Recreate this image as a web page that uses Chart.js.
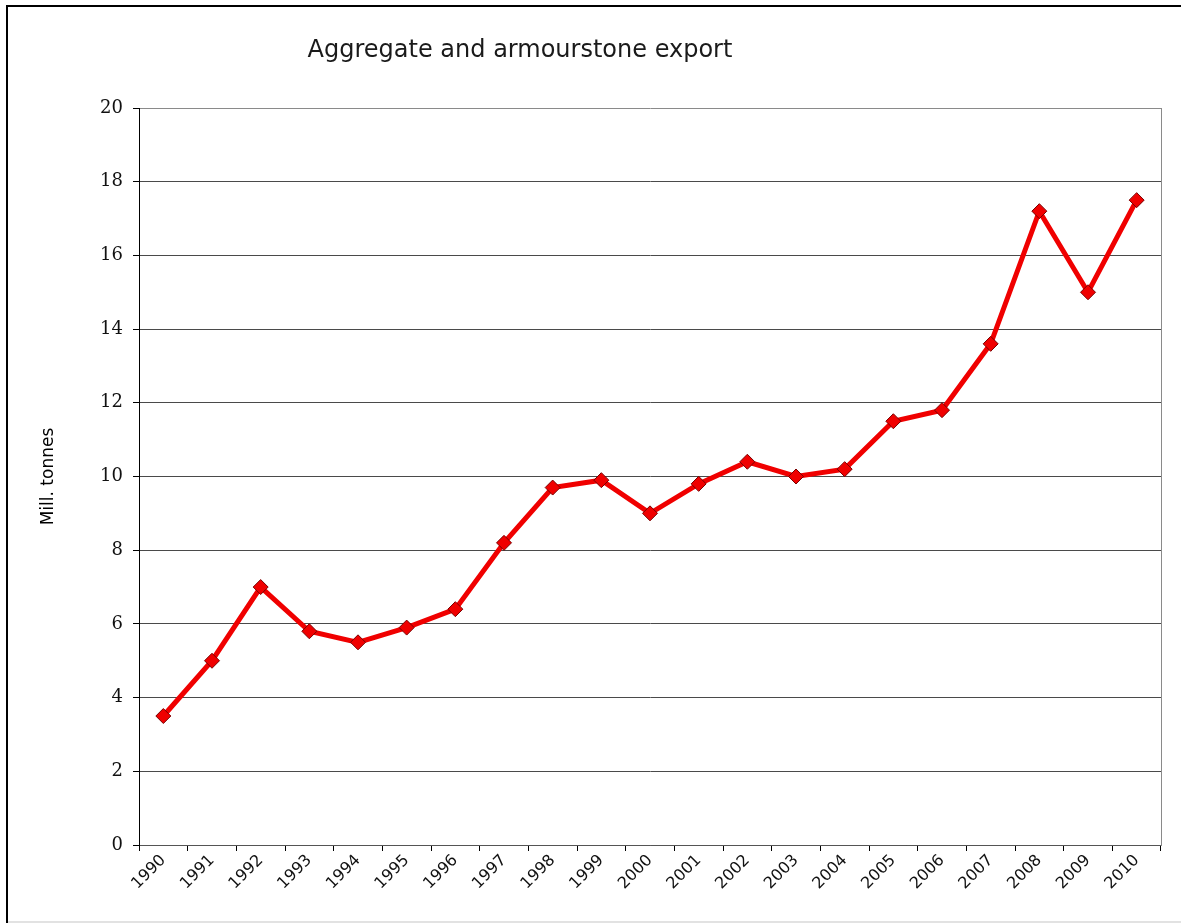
<!DOCTYPE html>
<html>
<head>
<meta charset="utf-8">
<script src="https://cdn.jsdelivr.net/npm/chart.js@4/dist/chart.umd.min.js"></script>
<style>
  html, body { margin: 0; padding: 0; background: #fff; overflow: hidden; }
  body { width: 1181px; height: 924px; position: relative; }
  .ln { position: absolute; }
  #topLine { left: 6px; top: 5px; width: 1175px; height: 2px; background: #000; }
  #leftLine { left: 6px; top: 5px; width: 2px; height: 918px; background: #000; }
  #bottomLine { left: 8px; top: 921px; width: 1173px; height: 2px; background: #e2e2e2; }
  #wrap { position: absolute; left: 0; top: 0; width: 1181px; height: 924px; }
</style>
</head>
<body>
<div class="ln" id="topLine"></div>
<div class="ln" id="leftLine"></div>
<div class="ln" id="bottomLine"></div>
<div id="wrap"><canvas id="c" width="1181" height="924"></canvas></div>
<script>
const chartTitle = 'Aggregate and armourstone export';
const yAxisTitle = 'Mill. tonnes';
const years = ['1990','1991','1992','1993','1994','1995','1996','1997','1998','1999','2000',
               '2001','2002','2003','2004','2005','2006','2007','2008','2009','2010'];
const exportValues = [3.5, 5.0, 7.0, 5.8, 5.5, 5.9, 6.4, 8.2, 9.7, 9.9, 9.0,
                      9.8, 10.4, 10.0, 10.2, 11.5, 11.8, 13.6, 17.2, 15.0, 17.5];
const yMin = 0, yMax = 20, yStep = 2;

const titlePlugin = {
  id: 'customTitle',
  afterDraw(chart) {
    const ctx = chart.ctx;
    const a = chart.chartArea;
    ctx.save();
    ctx.font = '24px "DejaVu Sans"';
    ctx.fillStyle = '#1a1a1a';
    ctx.textAlign = 'center';
    ctx.textBaseline = 'alphabetic';
    ctx.fillText(chartTitle, a.left + 0.3728 * (a.right - a.left), 57);
    ctx.restore();
  }
};

new Chart(document.getElementById('c'), {
  type: 'line',
  data: {
    labels: years,
    datasets: [{
      data: exportValues,
      borderColor: '#f00000',
      borderWidth: 5,
      tension: 0,
      pointStyle: 'rectRot',
      pointRadius: 7.5,
      pointHoverRadius: 7.5,
      pointBackgroundColor: '#f00000',
      pointBorderColor: '#7a0000',
      pointBorderWidth: 1
    }]
  },
  options: {
    responsive: false,
    animation: false,
    devicePixelRatio: 1,
    layout: { padding: { left: 0, top: 108, right: 20, bottom: 0 } },
    plugins: { legend: { display: false }, tooltip: { enabled: false }, title: { display: false } },
    scales: {
      x: {
        type: 'category',
        offset: true,
        grid: { offset: true, drawOnChartArea: false, drawTicks: true, tickLength: 6, tickColor: '#000', lineWidth: 1 },
        border: { display: true, color: '#555', width: 1 },
        ticks: { maxRotation: 45, minRotation: 45, padding: 0, color: '#111',
                 font: { family: '"DejaVu Sans"', size: 16 }, autoSkip: false },
        afterFit(scale) { scale.height = 79; }
      },
      y: {
        position: 'left',
        min: yMin, max: yMax,
        ticks: { stepSize: yStep, padding: 10, color: '#111', font: { family: '"DejaVu Serif"', size: 18 } },
        grid: {
          drawTicks: true, tickLength: 6,
          color: (c) => (c.tick && c.tick.value === yMax) ? '#8a8a8a' : '#4a4a4a',
          tickColor: '#000', lineWidth: 1
        },
        border: { display: true, color: '#000', width: 1 },
        title: { display: true, text: yAxisTitle, color: '#000', padding: { top: 38, bottom: 0 },
                 font: { family: '"DejaVu Sans"', size: 17 } },
        afterFit(scale) { scale.width = 139; }
      },
      y2: {
        position: 'right',
        min: yMin, max: yMax,
        ticks: { display: false },
        grid: { drawOnChartArea: false, drawTicks: false },
        border: { display: true, color: '#8a8a8a', width: 1 },
        afterFit(scale) { scale.width = 0; }
      }
    }
  },
  plugins: [titlePlugin]
});
</script>
</body>
</html>
